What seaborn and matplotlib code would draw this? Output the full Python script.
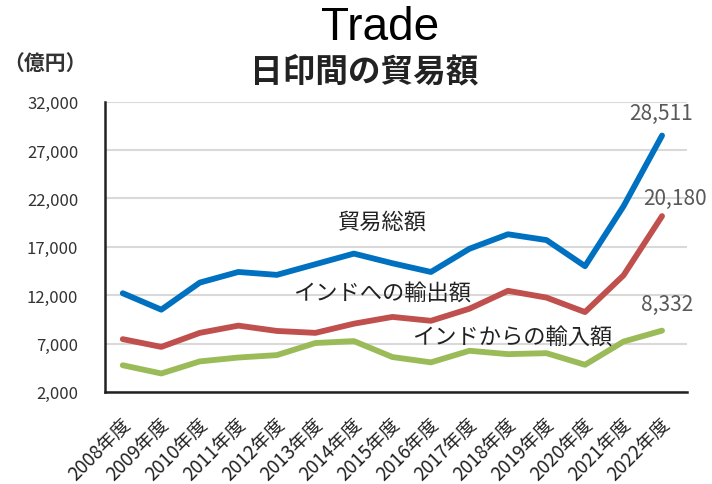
import matplotlib
matplotlib.use("Agg")
import matplotlib.pyplot as plt
import matplotlib.transforms as mtransforms
from matplotlib.ticker import FuncFormatter
import numpy as np
import pandas as pd
import seaborn as sns

# 年度と各系列（億円）
years = ["2008年度", "2009年度", "2010年度", "2011年度", "2012年度", "2013年度", "2014年度",
         "2015年度", "2016年度", "2017年度", "2018年度", "2019年度", "2020年度", "2021年度", "2022年度"]
total = [12200, 10500, 13300, 14400, 14100, 15200, 16300, 15300, 14400, 16800, 18300, 17700, 15000, 21200, 28511]
exports = [7450, 6650, 8100, 8850, 8300, 8100, 9050, 9750, 9350, 10600, 12450, 11750, 10250, 14050, 20180]
imports = [4750, 3900, 5150, 5550, 5800, 7050, 7250, 5600, 5050, 6250, 5900, 6000, 4800, 7200, 8332]

series_names = ["貿易総額", "インドへの輸出額", "インドからの輸入額"]
yticks = [2000, 7000, 12000, 17000, 22000, 27000, 32000]

sns.set_theme(style="white")
plt.rcParams['font.family'] = ['Noto Sans CJK JP', 'DejaVu Sans']

df = pd.DataFrame({"year": years, series_names[0]: total,
                   series_names[1]: exports, series_names[2]: imports})
long = df.melt(id_vars="year", var_name="series", value_name="value")
long["x"] = long["year"].map({y: i for i, y in enumerate(years)})

palette = {series_names[0]: "#0070C0", series_names[1]: "#C0504D", series_names[2]: "#9BBB59"}

fig = plt.figure(figsize=(7.12, 4.85), dpi=100)
ax = fig.add_axes([0.147, 0.19, 0.818, 0.598])

sns.lineplot(data=long, x="x", y="value", hue="series", palette=palette,
             linewidth=4.2, legend=False, ax=ax, solid_capstyle="round")

ax.set_xlim(-0.47, len(years) - 1 + 0.65)
ax.set_ylim(yticks[0], yticks[-1])
ax.set_yticks(yticks)
ax.yaxis.set_major_formatter(FuncFormatter(lambda v, p: f"{int(v):,}"))
ax.set_xticks(range(len(years)))
ax.set_xticklabels(years, rotation=45, ha="right", va="center", rotation_mode="anchor")
ax.tick_params(axis="x", pad=21, labelsize=13.5, colors="#222222", length=0)
ax.tick_params(axis="y", pad=19, labelsize=12, colors="#333333", length=0)
for lab in ax.get_xticklabels():
    lab.set_transform(lab.get_transform() + mtransforms.ScaledTranslation(5 / 100, 0, fig.dpi_scale_trans))

ax.set_xlabel("")
ax.set_ylabel("")
ax.grid(axis="y", color="#D9D9D9", linewidth=1.5)
ax.set_axisbelow(True)
for side in ["top", "right"]:
    ax.spines[side].set_visible(False)
for side in ["left", "bottom"]:
    ax.spines[side].set_color("#222222")
    ax.spines[side].set_linewidth(1.8)

# 系列名
ax.text(6.75, 19700, series_names[0], fontsize=16, ha="center", va="center", color="#222222")
ax.text(6.73, 12250, series_names[1], fontsize=16, ha="center", va="center", color="#222222")
ax.text(10.1, 7700, series_names[2], fontsize=16, ha="center", va="center", color="#222222")

# 2022年度の値
last = len(years) - 1
for vals, off in [(total, (-1, 16)), (exports, (9, 13)), (imports, (4, 19))]:
    ax.annotate(f"{vals[last]:,}", (last, vals[last]), xytext=off, textcoords="offset points",
                ha="center", va="center", fontsize=15, color="#595959")

fig.text(0.534, 0.942, "Trade", fontsize=33, ha="center", va="center",
         family=["Liberation Sans", "DejaVu Sans"], color="black")
fig.text(0.512, 0.852, "日印間の貿易額", fontsize=23.5, ha="center", va="center",
         fontweight="bold", color="#222222")
fig.text(0.063, 0.87, "（億円）", fontsize=15, ha="center", va="center",
         fontweight="bold", color="#333333")

fig.savefig("out.png", dpi=100)
